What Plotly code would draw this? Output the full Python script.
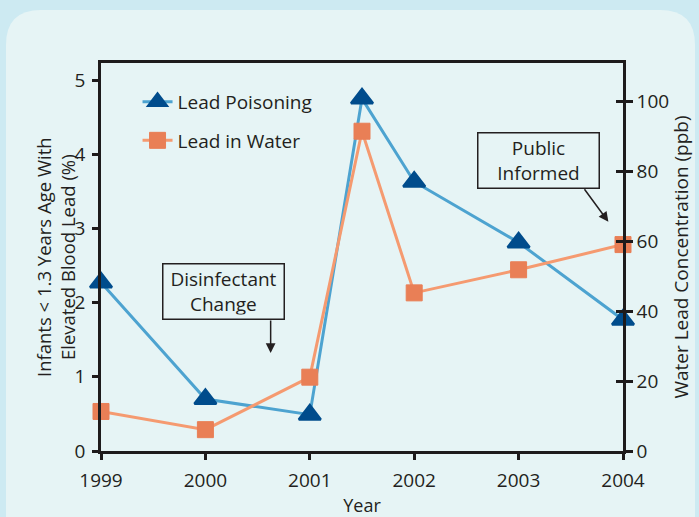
import plotly.graph_objects as go

# ---- data ----
years = [1999, 2000, 2001, 2001.5, 2002, 2003, 2004]
lead_poisoning = [2.27, 0.70, 0.49, 4.75, 3.63, 2.81, 1.77]   # % infants (left axis)
lead_in_water = [11.3, 6.1, 21.1, 91.4, 45.2, 51.8, 59.0]      # ppb (right axis)
x_ticks = [1999, 2000, 2001, 2002, 2003, 2004]
left_ticks = [0, 1, 2, 3, 4, 5]
right_ticks = [0, 20, 40, 60, 80, 100]
left_title = "Infants < 1.3 Years Age With<br>Elevated Blood Lead (%)"
right_title = "Water Lead Concentration (ppb)"

FONT = "Open Sans"
TXT = "#231f20"
AX = "#1e1b1c"

fig = go.Figure()
fig.add_trace(go.Scatter(
    x=years, y=lead_poisoning, name="Lead Poisoning", mode="lines+markers",
    line=dict(color="#4da3d0", width=3),
    marker=dict(symbol="triangle-up", size=19, color="#004c8c",
                line=dict(color="#004c8c", width=2.5)),
    cliponaxis=False, yaxis="y", legendgroup="a"))
fig.add_trace(go.Scatter(
    x=years, y=lead_in_water, name="Lead in Water", mode="lines+markers",
    line=dict(color="#f59a70", width=3),
    marker=dict(symbol="square", size=16, color="#e97f56",
                line=dict(color="#e97f56", width=1)),
    cliponaxis=False, yaxis="y2", legendgroup="b"))

# plot area in pixels
L, R, T, B = 101, 76, 63, 66
W, H = 699, 517
pw, ph = W - L - R, H - T - B
def px(x): return (x - L) / pw
def py(y): return (H - B - y) / ph
l, r, t, b, rad = 6, 695, 10, 560, 35
path = (f"M {px(l+rad)},{py(t)} H {px(r-rad)} Q {px(r)},{py(t)} {px(r)},{py(t+rad)} "
        f"V {py(b)} H {px(l)} V {py(t+rad)} Q {px(l)},{py(t)} {px(l+rad)},{py(t)} Z")

axfont = dict(family=FONT, size=18, color=TXT)
tkfont = dict(family=FONT, size=19, color=TXT)
fig.update_layout(
    width=W, height=H,
    margin=dict(l=L, r=R, t=T, b=B, pad=0, autoexpand=False),
    paper_bgcolor="#cdeaf2", plot_bgcolor="rgba(0,0,0,0)",
    font=axfont,
    shapes=[dict(type="path", xref="paper", yref="paper", path=path,
                 fillcolor="#e6f4f5", line=dict(width=0), layer="below")],
    xaxis=dict(range=[1999, 2004], tickvals=x_ticks, ticks="outside", ticklen=6,
               tickwidth=2.5, tickcolor=AX, showline=True, linewidth=2.5, linecolor=AX,
               mirror=True, showgrid=False, zeroline=False, automargin=False,
               ticklabelstandoff=4,
               title=dict(text="Year", font=axfont, standoff=10), tickfont=tkfont),
    yaxis=dict(range=[0, 5.23], tickvals=left_ticks, ticks="outside", ticklen=6,
               tickwidth=2.5, tickcolor=AX, showline=True, linewidth=2.5, linecolor=AX,
               showgrid=False, zeroline=False, tickfont=tkfont, automargin=False,
               ticklabelstandoff=3),
    yaxis2=dict(range=[0, 110.9], tickvals=right_ticks, ticks="outside", ticklen=7,
                tickwidth=2.5, tickcolor=AX, showline=True, linewidth=2.5, linecolor=AX,
                overlaying="y", side="right", anchor="x", showgrid=False, zeroline=False,
                tickfont=tkfont, automargin=False,
                title=dict(text=right_title, font=tkfont, standoff=7)),
    yaxis3=dict(range=[0, 110.9], tickvals=right_ticks, ticks="inside", ticklen=7,
                tickwidth=2.5, tickcolor=AX, showline=False, overlaying="y", side="right",
                anchor="x", showgrid=False, zeroline=False, showticklabels=False,
                automargin=False),
    legend=dict(x=0.07, y=0.949, xanchor="left", yanchor="top", bgcolor="rgba(0,0,0,0)",
                font=tkfont, traceorder="grouped", tracegroupgap=11),
    showlegend=True,
)

# left axis title
fig.add_annotation(text=left_title, xref="paper", yref="paper", x=px(55), y=0.5,
                   textangle=-90, showarrow=False, xanchor="center", yanchor="middle",
                   font=dict(family=FONT, size=18.5, color=TXT))

box = dict(xref="x", yref="y", showarrow=False, bordercolor=TXT, borderwidth=1.5,
           borderpad=4, font=tkfont,
           xanchor="center", yanchor="middle", width=112, height=46)
fig.add_annotation(text="Disinfectant<br>Change", x=2000.17, y=2.15, **box)
fig.add_annotation(text="Public<br>Informed", x=2003.195, y=3.91, **box)
arr = dict(xref="x", yref="y", text="", showarrow=True, arrowhead=2, arrowsize=1.3,
           arrowwidth=1.5, arrowcolor=TXT, axref="pixel", ayref="pixel")
fig.add_annotation(x=2000.625, y=1.32, ax=0, ay=-34, **arr)
fig.add_annotation(x=2003.86, y=3.09, ax=-25, ay=-34, **arr)

# invisible trace to keep the tick-only right axis drawn
fig.add_trace(go.Scatter(x=[years[0]], y=[lead_in_water[0]], yaxis="y3", mode="markers",
                         marker=dict(opacity=0), showlegend=False, hoverinfo="skip"))

fig.write_html("out.html", config={"displayModeBar": False},
               post_script="document.body.style.margin='0';document.body.style.padding='0';")
